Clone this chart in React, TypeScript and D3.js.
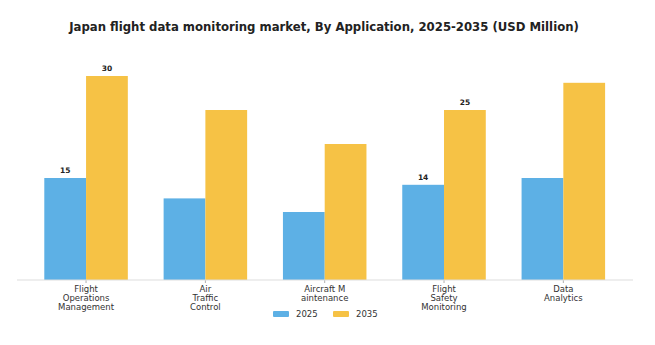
import React from "react";
import * as d3 from "d3";

const categories = [
  ["Flight", "Operations", "Management"],
  ["Air", "Traffic", "Control"],
  ["Aircraft M", "aintenance"],
  ["Flight", "Safety", "Monitoring"],
  ["Data", "Analytics"],
];
const categoryKeys = ["Flight Operations Management", "Air Traffic Control", "Aircraft Maintenance", "Flight Safety Monitoring", "Data Analytics"];
const seriesNames = ["2025", "2035"];
const values2025 = [15, 12, 10, 14, 15];
const values2035 = [30, 25, 20, 25, 29];
const labels2025 = ["15", "", "", "14", ""];
const labels2035 = ["30", "", "", "25", ""];
const colors = ["#5DB0E5", "#F6C245"];

export default function App() {
  const W = 655, H = 345;
  const x = d3.scaleBand<string>().domain(categoryKeys).range([26.4, 623]).paddingInner(0.3).paddingOuter(0.15);
  const xs = d3.scaleBand<string>().domain(seriesNames).range([0, x.bandwidth()]);
  const y = d3.scaleLinear().domain([0, 30]).range([280, 76]);
  const series = [values2025, values2035];
  const labels = [labels2025, labels2035];
  const font = "DejaVu Sans, sans-serif";
  return (
    <svg width={W} height={H} style={{ position: "absolute", left: 0, top: 0, background: "#fff" }} fontFamily={font}>
      <text x={324} y={31} textAnchor="middle" fontSize={11.7} fontWeight="bold" fill="#222">
        Japan flight data monitoring market, By Application, 2025-2035 (USD Million)
      </text>
      {categoryKeys.map((c, i) => (
        <g key={c}>
          {series.map((vals, s) => (
            <rect key={s} x={x(c)! + xs(seriesNames[s])!} y={y(vals[i])} width={xs.bandwidth()} height={y(0) - y(vals[i])} fill={colors[s]} />
          ))}
          {series.map((vals, s) =>
            labels[s][i] ? (
              <text key={"l" + s} x={x(c)! + xs(seriesNames[s])! + xs.bandwidth() / 2} y={y(vals[i]) - 5} textAnchor="middle" fontSize={7.5} fontWeight="bold" fill="#222">
                {labels[s][i]}
              </text>
            ) : null
          )}
          <line x1={x(c)! + x.bandwidth() / 2} x2={x(c)! + x.bandwidth() / 2} y1={280} y2={283} stroke="#999" strokeWidth={0.8} />
          {categories[i].map((t, k) => (
            <text key={k} x={x(c)! + x.bandwidth() / 2} y={292 + k * 9} textAnchor="middle" fontSize={8.5} fill="#333">
              {t}
            </text>
          ))}
        </g>
      ))}
      <line x1={17} x2={633} y1={280} y2={280} stroke="#ddd" strokeWidth={1} />
      {seriesNames.map((s, i) => (
        <g key={s} transform={`translate(${273 + i * 60},314)`}>
          <rect x={0} y={-3} width={16} height={6} rx={1} fill={colors[i]} />
          <text x={23} y={3} fontSize={8.5} fill="#333">{s}</text>
        </g>
      ))}
    </svg>
  );
}
